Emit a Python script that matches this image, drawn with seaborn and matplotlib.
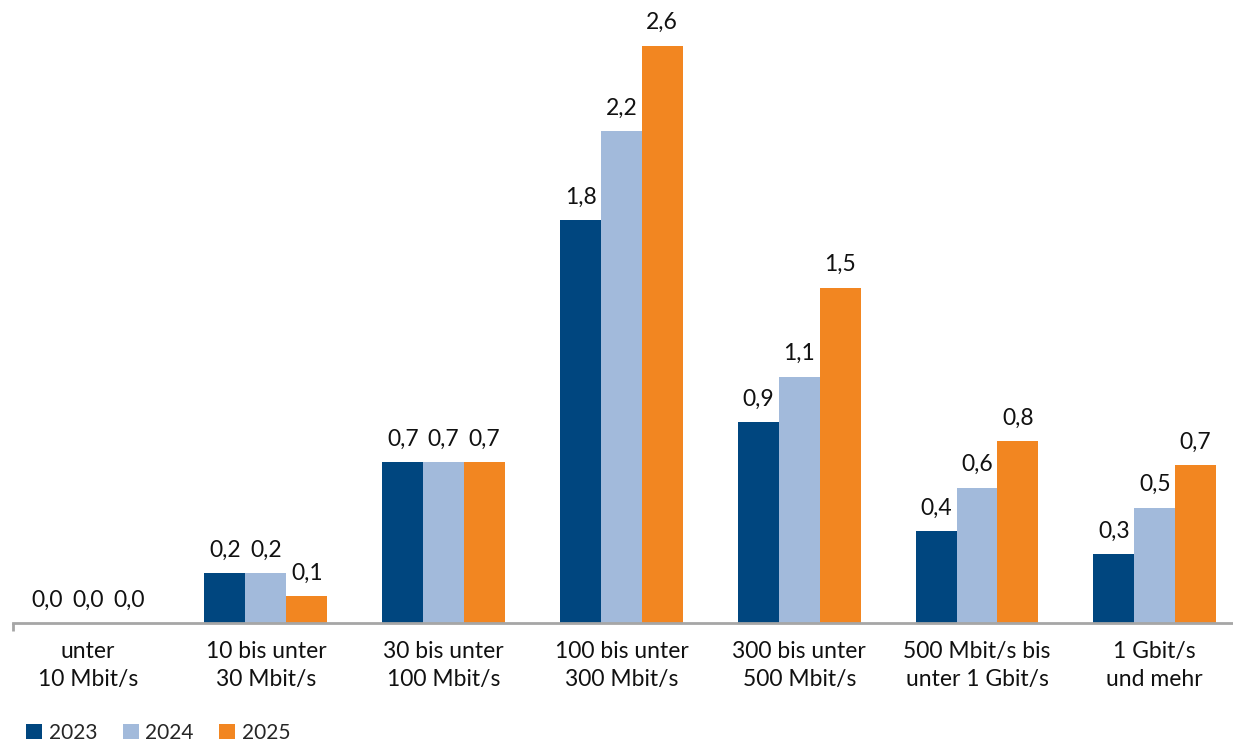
import matplotlib
matplotlib.use("Agg")
import matplotlib.pyplot as plt
import seaborn as sns
import pandas as pd
import numpy as np

categories = ["unter\n10 Mbit/s", "10 bis unter\n30 Mbit/s", "30 bis unter\n100 Mbit/s",
              "100 bis unter\n300 Mbit/s", "300 bis unter\n500 Mbit/s",
              "500 Mbit/s bis\nunter 1 Gbit/s", "1 Gbit/s\nund mehr"]
years = ["2023", "2024", "2025"]
v2023 = [0.0, 0.225, 0.725, 1.815, 0.905, 0.414, 0.31]
v2024 = [0.0, 0.225, 0.725, 2.216, 1.11, 0.61, 0.52]
v2025 = [0.0, 0.12, 0.725, 2.6, 1.51, 0.82, 0.71]
colors = ["#00467F", "#A2BADB", "#F28621"]

rows = []
for y, vals in zip(years, [v2023, v2024, v2025]):
    for c, v in zip(categories, vals):
        rows.append({"cat": c, "year": y, "value": v})
df = pd.DataFrame(rows)

sns.set_theme(style="white")
plt.rcParams['font.family'] = ['Lato', 'DejaVu Sans']

W, H = 1233, 744
fig = plt.figure(figsize=(W / 100, H / 100), dpi=100)
ax = fig.add_axes([13 / W, (H - 623) / H, 1220 / W, 623 / H])

sns.barplot(data=df, x="cat", y="value", hue="year", palette=colors,
            width=0.69, saturation=1, ax=ax, legend=True, linewidth=0)

FS = 16.5
for cont in ax.containers:
    labels = [f"{v:.1f}".replace(".", ",") for v in cont.datavalues]
    ax.bar_label(cont, labels=labels, padding=9, fontsize=FS, color="#111111")

ax.set_xlim(-0.422, 6.44)
ax.set_ylim(0, 2.806)
ax.set_xlabel("")
ax.set_ylabel("")
ax.set_yticks([])
for s in ["top", "right", "left"]:
    ax.spines[s].set_visible(False)
ax.spines["bottom"].set_color("#A6A6A6")
ax.spines["bottom"].set_linewidth(2)
ax.tick_params(axis="x", which="major", length=0, pad=13, labelsize=FS, labelcolor="#111111")
ax.set_xticks([-0.422], minor=True)
ax.tick_params(axis="x", which="minor", length=6, width=2, color="#A6A6A6", bottom=True)
for t in ax.get_xticklabels():
    t.set_linespacing(1.4)

leg = ax.legend(loc="lower left", bbox_to_anchor=(22 / W, -3 / H), bbox_transform=fig.transFigure,
                ncol=3, frameon=False, fontsize=15, handlelength=0.77, handleheight=0.77,
                handletextpad=0.33, columnspacing=1.2, borderaxespad=0.0, borderpad=0.2)

fig.savefig("out.png", dpi=100)
